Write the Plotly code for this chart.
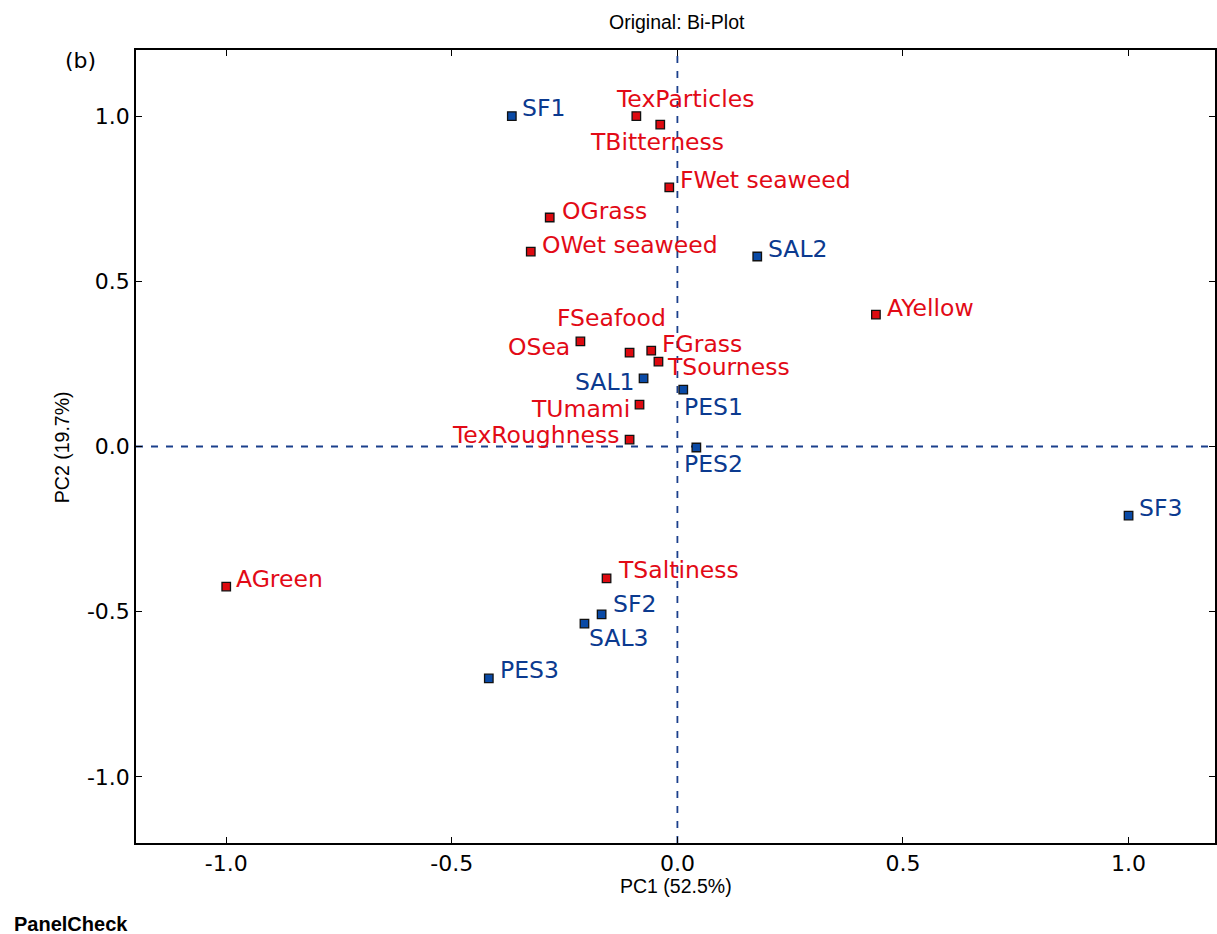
import plotly.graph_objects as go

# ---- data ----
attr_names = ["TexParticles", "TBitterness", "FWet seaweed", "OGrass", "OWet seaweed",
              "AYellow", "OSea", "FSeafood", "FGrass", "TSourness", "TUmami",
              "TexRoughness", "TSaltiness", "AGreen"]
attr_pc1 = [-0.091, -0.038, -0.018, -0.283, -0.325, 0.440, -0.215, -0.106, -0.058,
            -0.042, -0.084, -0.106, -0.157, -1.0]
attr_pc2 = [1.0, 0.974, 0.784, 0.693, 0.590, 0.399, 0.318, 0.284, 0.290, 0.257,
            0.127, 0.021, -0.399, -0.424]

obj_names = ["SF1", "SAL2", "SAL1", "PES1", "PES2", "SF3", "SF2", "SAL3", "PES3"]
obj_pc1 = [-0.367, 0.177, -0.075, 0.013, 0.042, 1.0, -0.168, -0.206, -0.418]
obj_pc2 = [1.0, 0.575, 0.206, 0.172, -0.003, -0.209, -0.508, -0.536, -0.702]

tick_vals = [-1.0, -0.5, 0.0, 0.5, 1.0]
tick_text = ["-1.0", "-0.5", "0.0", "0.5", "1.0"]

# label placement (anchor, x offset px, y offset px)
label_style = {
    "SF1": ("left", 9, 8), "TexParticles": ("left", -21, 17), "TBitterness": ("left", -71, -17),
    "FWet seaweed": ("left", 10, 7), "OGrass": ("left", 11, 7), "OWet seaweed": ("left", 10, 7),
    "SAL2": ("left", 10, 8), "AYellow": ("left", 10, 7), "FSeafood": ("right", 37, 35),
    "OSea": ("right", -9, -6), "FGrass": ("left", 10, 7), "TSourness": ("left", 8, -5),
    "SAL1": ("right", -9, -4), "PES1": ("left", 0, -17), "TUmami": ("right", -9, -4),
    "TexRoughness": ("right", -9, 5), "PES2": ("left", -13, -17), "SF3": ("left", 9, 8),
    "AGreen": ("left", 9, 8), "TSaltiness": ("left", 10, 8), "SF2": ("left", 10, 10),
    "SAL3": ("left", 4, -14), "PES3": ("left", 10, 8),
}

RED_TXT = "#e20a16"
RED_MK = "#dd0a10"
BLUE_TXT = "#0b3a8f"
BLUE_MK = "#0a4aa6"
LINE_BLUE = "#1a3f8c"
NARROW = "Liberation Sans Narrow, Liberation Sans, Arial"

fig = go.Figure()
fig.add_trace(go.Scatter(x=attr_pc1, y=attr_pc2, mode="markers", name="attributes",
                         marker=dict(symbol="square", size=8.5, color=RED_MK,
                                     line=dict(color="#111111", width=1.3)),
                         showlegend=False, hoverinfo="text", text=attr_names))
fig.add_trace(go.Scatter(x=obj_pc1, y=obj_pc2, mode="markers", name="objects",
                         marker=dict(symbol="square", size=8.5, color=BLUE_MK,
                                     line=dict(color="#111111", width=1.3)),
                         showlegend=False, hoverinfo="text", text=obj_names))

annotations = []
for names, xs, ys, col in [(attr_names, attr_pc1, attr_pc2, RED_TXT),
                           (obj_names, obj_pc1, obj_pc2, BLUE_TXT)]:
    for n, x, y in zip(names, xs, ys):
        anchor, dx, dy = label_style[n]
        annotations.append(dict(x=x, y=y, xref="x", yref="y", text=n, showarrow=False,
                                xanchor=anchor, yanchor="middle", xshift=dx, yshift=dy,
                                borderpad=0,
                                font=dict(family="DejaVu Sans", size=23.5, color=col)))

W, H = 1217, 934
ML, MR, MT, MB = 136, 0, 50, 91
pw, ph = W - ML - MR, H - MT - MB


def px(xp):
    return (xp - ML) / pw


def py(yp):
    return (H - MB - yp) / ph


annotations.append(dict(x=px(80), y=py(60), xref="paper", yref="paper", text="(b)",
                        showarrow=False, xanchor="center", yanchor="middle",
                        font=dict(family="DejaVu Sans", size=22, color="black")))
annotations.append(dict(x=px(12), y=py(924), xref="paper", yref="paper",
                        text="<b>PanelCheck</b>", showarrow=False, xanchor="left", yanchor="middle",
                        font=dict(family=NARROW, size=20, color="black")))
annotations.append(dict(x=px(678), y=py(22), xref="paper", yref="paper",
                        text="Original: Bi-Plot", showarrow=False, xanchor="center", yanchor="middle",
                        font=dict(family=NARROW, size=19.5, color="black")))
annotations.append(dict(x=px(677), y=py(886), xref="paper", yref="paper",
                        text="PC1 (52.5%)", showarrow=False, xanchor="center", yanchor="middle",
                        font=dict(family=NARROW, size=19.5, color="black")))
annotations.append(dict(x=px(62), y=py(447), xref="paper", yref="paper",
                        text="PC2 (19.7%)", showarrow=False, xanchor="center", yanchor="middle",
                        textangle=-90,
                        font=dict(family=NARROW, size=19.5, color="black")))

shapes = [
    dict(type="line", xref="x", yref="paper", x0=0, x1=0, y0=0, y1=1, layer="below",
         line=dict(color=LINE_BLUE, width=1.8, dash="7px,8px")),
    dict(type="line", xref="paper", yref="y", x0=0, x1=1, y0=0, y1=0, layer="below",
         line=dict(color=LINE_BLUE, width=1.8, dash="7px,8px")),
]

x_max = -1.2 + pw / 452.0
axis_common = dict(showgrid=False, zeroline=False, showline=True, linecolor="black", linewidth=1.5,
                   mirror="allticks", ticks="inside", ticklen=6, tickcolor="black", tickwidth=1,
                   tickvals=tick_vals, ticktext=tick_text,
                   tickfont=dict(family="DejaVu Sans", size=22, color="black"))

fig.update_layout(
    width=W, height=H,
    margin=dict(l=ML, r=MR, t=MT, b=MB),
    paper_bgcolor="white", plot_bgcolor="white",
    xaxis=dict(range=[-1.2, x_max], **axis_common),
    yaxis=dict(range=[-1.2, 1.2], **axis_common),
    annotations=annotations, shapes=shapes, showlegend=False,
)

fig.write_html("out.html", config={"displayModeBar": False},
               post_script="document.body.style.margin='0';document.body.style.overflow='hidden';")
